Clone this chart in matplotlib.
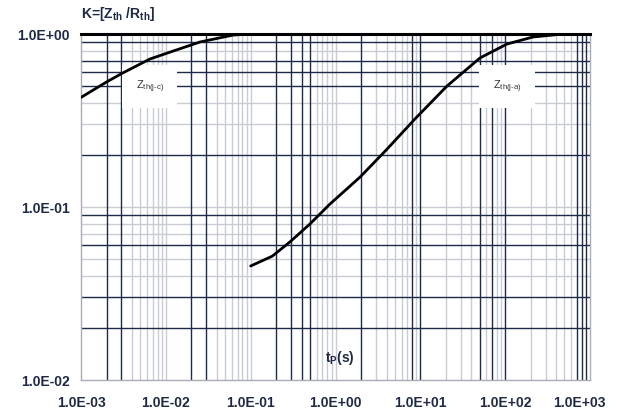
import matplotlib
matplotlib.use("Agg")
import matplotlib.pyplot as plt
import matplotlib.transforms as mtransforms
from matplotlib.ticker import FixedLocator, NullLocator

plt.rcParams['font.family'] = ['Liberation Sans', 'DejaVu Sans']
plt.rcParams['mathtext.fontset'] = 'custom'
plt.rcParams['mathtext.rm'] = 'Liberation Sans'
plt.rcParams['mathtext.it'] = 'Liberation Sans'
plt.rcParams['mathtext.bf'] = 'Liberation Sans:bold'

# ---- data ----
t_jc = [1e-3, 2.0e-3, 3.1e-3, 6.5e-3, 0.0122, 0.0253, 0.062, 0.1, 1000]
k_jc = [0.43, 0.528, 0.595, 0.717, 0.797, 0.899, 0.986, 1.0, 1.0]

t_ja = [0.1, 0.18, 0.29, 0.5, 0.86, 1.95, 4.05, 8.65, 20.6, 50.5, 105, 213, 481, 1000]
k_ja = [0.0456, 0.052, 0.0628, 0.0798, 0.104, 0.149, 0.216, 0.323, 0.50, 0.727, 0.875, 0.961, 1.0, 1.0]

x_ticks = [1e-3, 1e-2, 1e-1, 1e0, 1e1, 1e2, 1e3]
x_tick_labels = ['1.0E-03', '1.0E-02', '1.0E-01', '1.0E+00', '1.0E+01', '1.0E+02', '1.0E+03']
y_ticks = [1e-2, 1e-1, 1e0]
y_tick_labels = ['1.0E-02', '1.0E-01', '1.0E+00']

label_jc = r'Z$_{\mathrm{th(j\text{-}c)}}$'
label_ja = r'Z$_{\mathrm{th(j\text{-}a)}}$'
y_title = r'K=[Z$_{\mathbf{th}}$ /R$_{\mathbf{th}}$]'
x_title = r't$_{\mathbf{P}}$(s)'

# gridline styling (dark / light pattern as in the scan)
dark_x = [2e-3, 3e-3, 2e-2, 3e-2, 2e-1, 3e-1, 4e-1, 5e-1, 2, 8, 10, 50, 70, 100, 700, 800, 900]
light_x = [4e-3, 5e-3, 6e-3, 7e-3, 8e-3, 9e-3, 1e-2, 4e-2, 5e-2, 6e-2, 7e-2, 8e-2, 9e-2, 1e-1,
           6e-1, 7e-1, 8e-1, 9e-1, 1, 3, 4, 5, 6, 7, 9, 20, 30, 40, 60, 80, 90,
           200, 300, 400, 500, 600]
dark_y = [0.9, 0.7, 0.6, 0.5, 0.2, 0.09, 0.06, 0.03, 0.02]
light_y = [0.8, 0.4, 0.3, 0.1, 0.08, 0.07, 0.05, 0.04]

NAVY = '#1d2a48'
LIGHT = '#c9ccd3'
TXT = '#1f2944'

fig = plt.figure(figsize=(6.22, 4.14), dpi=100)
ax = fig.add_axes([81/622, 1-381/414, 509/622, 346/414])
ax.set_xscale('log')
ax.set_yscale('log')
ax.set_xlim(1e-3, 1e3)
ax.set_ylim(1e-2, 1e0)

for xv in light_x:
    ax.axvline(xv, color=LIGHT, lw=1.0, zorder=1)
for xv in dark_x:
    ax.axvline(xv, color=NAVY, lw=1.0, zorder=2)
for yv in light_y:
    ax.axhline(yv, color=LIGHT, lw=1.0, zorder=1)
for yv in dark_y:
    ax.axhline(yv, color=NAVY, lw=1.0, zorder=2)

ax.plot(t_jc, k_jc, color='black', lw=2.0, zorder=5, solid_capstyle='round', solid_joinstyle='round')
ax.plot(t_ja, k_ja, color='black', lw=2.0, zorder=5, solid_capstyle='round', solid_joinstyle='round')
ax.axhline(1.0, color='black', lw=2.2, zorder=6, clip_on=False)

ax.text(6.5e-3, 0.5, label_jc, fontsize=8, color='#333333', ha='center', va='center',
        bbox=dict(facecolor='white', edgecolor='none', boxstyle='square,pad=1.2'), zorder=4)
ax.text(105, 0.5, label_ja, fontsize=8, color='#333333', ha='center', va='center',
        bbox=dict(facecolor='white', edgecolor='none', boxstyle='square,pad=1.2'), zorder=4)

ax.xaxis.set_major_locator(FixedLocator(x_ticks))
ax.xaxis.set_minor_locator(NullLocator())
ax.set_xticklabels(x_tick_labels)
ax.yaxis.set_major_locator(FixedLocator(y_ticks))
ax.yaxis.set_minor_locator(NullLocator())
ax.set_yticklabels(y_tick_labels)
ax.tick_params(axis='both', which='both', length=0, labelsize=10, labelcolor=TXT)
ax.tick_params(axis='x', pad=11)
ax.tick_params(axis='y', pad=8)
for lab in ax.get_xticklabels() + ax.get_yticklabels():
    lab.set_fontweight('bold')
# last x label is shifted left in the reference so it fits in the picture
last = ax.get_xticklabels()[-1]
last.set_transform(last.get_transform() + mtransforms.ScaledTranslation(-11/100, 0, fig.dpi_scale_trans))

for side in ['left', 'bottom', 'right']:
    ax.spines[side].set_color('#a9adb5')
    ax.spines[side].set_linewidth(1.0)
ax.spines['top'].set_visible(False)

ax.text(0.0, 1.035, y_title, transform=ax.transAxes, fontsize=10, fontweight='bold',
        color=TXT, ha='left', va='bottom')
ax.text(0.509, 0.066, x_title, transform=ax.transAxes, fontsize=10, fontweight='bold',
        color=TXT, ha='center', va='center', zorder=4)

fig.savefig('out.png', dpi=100)
